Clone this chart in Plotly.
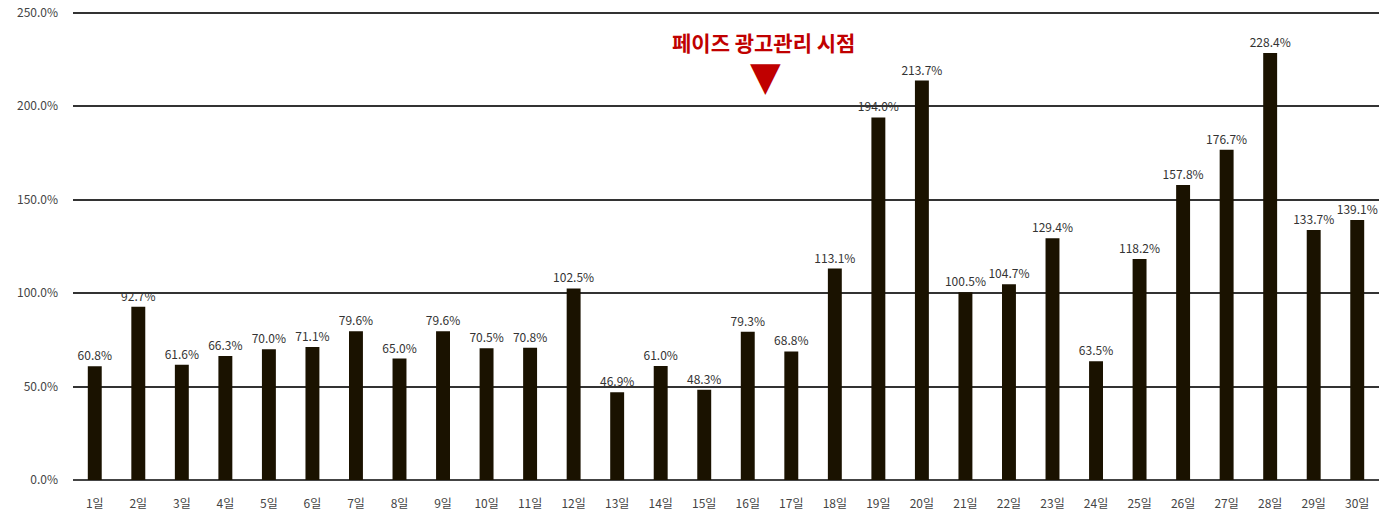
import plotly.graph_objects as go

days = [f"{i}일" for i in range(1, 31)]
values = [60.8, 92.7, 61.6, 66.3, 70.0, 71.1, 79.6, 65.0, 79.6, 70.5,
          70.8, 102.5, 46.9, 61.0, 48.3, 79.3, 68.8, 113.1, 194.0, 213.7,
          100.5, 104.7, 129.4, 63.5, 118.2, 157.8, 176.7, 228.4, 133.7, 139.1]
tick_vals = [0, 50, 100, 150, 200, 250]
tick_text = [f"{v:.1f}%" for v in tick_vals]
labels = [f"{v:.1f}%" for v in values]
note = "페이즈 광고관리 시점"

font = "Noto Sans CJK KR"
T, B = 9, 34
PH = 514 - T - B
fig = go.Figure(go.Bar(
    x=days, y=values, text=labels, textposition="outside", constraintext="none",
    textfont=dict(size=12, color="#333333", family=font),
    marker=dict(color="#1a1200", line=dict(width=0)),
    cliponaxis=False,
))
fig.update_layout(
    width=1385, height=514,
    margin=dict(l=73, r=6, t=T, b=B),
    plot_bgcolor="white", paper_bgcolor="white",
    bargap=0.68, showlegend=False,
    font=dict(family=font, size=12, color="#444444"),
    xaxis=dict(showgrid=False, showline=False, ticks="", automargin=False,
               ticklabelstandoff=15, tickfont=dict(size=12, color="#444444")),
    yaxis=dict(range=[0, 252], tickvals=tick_vals, ticktext=tick_text, automargin=False,
               showgrid=True, gridcolor="#333333", gridwidth=1.5,
               zeroline=True, zerolinecolor="#444444", zerolinewidth=2,
               ticks="", ticklabelstandoff=14, tickfont=dict(size=12, color="#444444")),
    annotations=[
        dict(text=f"<b>{note}</b>", xref="paper", yref="paper", x=(763-73)/1306, y=1-(42-T)/PH,
             showarrow=False, font=dict(size=21, color="#c00000", family=font), yanchor="middle"),
        dict(text="▼", xref="paper", yref="paper", x=(765-73)/1306, y=1-(76-T)/PH,
             showarrow=False, font=dict(size=40, color="#c00000", family="DejaVu Sans"), yanchor="middle"),
    ],
)
fig.write_html("out.html", config={"displayModeBar": False},
               post_script="document.body.style.margin='0';")
